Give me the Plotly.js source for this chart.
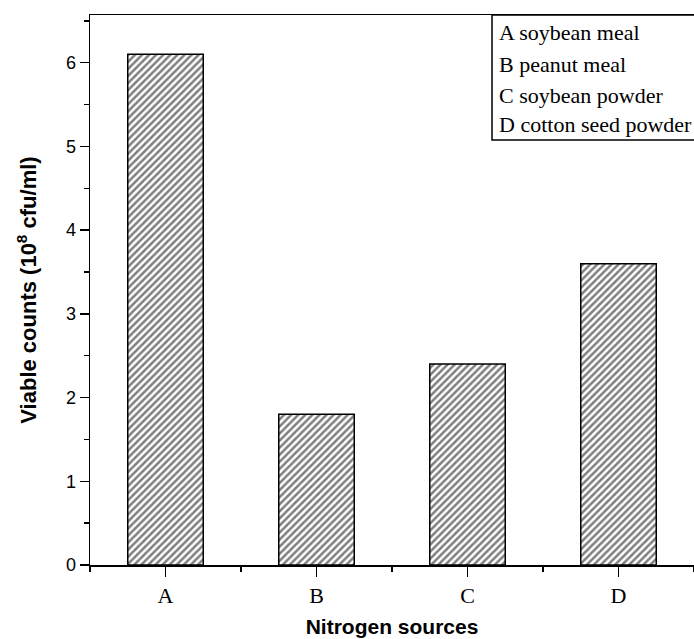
<!DOCTYPE html>
<html>
<head>
<meta charset="utf-8">
<script src="https://cdn.plot.ly/plotly-3.0.1.min.js"></script>
<style>html,body{margin:0;padding:0;background:#fff;}#chart{width:694px;height:639px;}</style>
</head>
<body>
<div id="chart"></div>
<script>
// Data
const categories = ['A', 'B', 'C', 'D'];
const sourceNames = ['soybean meal', 'peanut meal', 'soybean powder', 'cotton seed powder'];
const viableCounts = [6.1, 1.8, 2.4, 3.6];

const xPos = categories.map((c, i) => i + 1);

const trace = {
  type: 'bar',
  x: xPos,
  y: viableCounts,
  width: 0.5,
  marker: {
    color: 'white',
    line: {color: 'black', width: 1.5},
    pattern: {shape: '/', size: 5, solidity: 0.5, fgcolor: 'black', bgcolor: 'white', fillmode: 'overlay'}
  },
  hoverinfo: 'skip'
};

// Legend box (text-only key)
const legendTop = [0.9673, 0.9109, 0.8545, 0.80];
const annotations = categories.map((c, i) => ({
  xref: 'paper', yref: 'paper',
  x: 0.6738, y: legendTop[i],
  xanchor: 'left', yanchor: 'middle',
  text: c + ' ' + sourceNames[i],
  showarrow: false,
  font: {family: 'Liberation Serif, Times New Roman, serif', size: 22, color: 'black'}
}));

const layout = {
  width: 694, height: 639,
  margin: {l: 90, r: 0, t: 15, b: 74},
  paper_bgcolor: 'white', plot_bgcolor: 'white',
  showlegend: false,
  xaxis: {
    range: [0.5, 4.5],
    tickmode: 'array', tickvals: xPos, ticktext: categories,
    ticks: 'outside', ticklen: 10, tickwidth: 1.5, tickcolor: 'black',
    minor: {tickmode: 'array', tickvals: [0.5, 1.5, 2.5, 3.5, 4.5], ticks: 'outside', ticklen: 5, tickwidth: 1.5, tickcolor: 'black'},
    showline: true, linewidth: 1.5, linecolor: 'black', mirror: true,
    showgrid: false, zeroline: false,
    tickfont: {family: 'Liberation Serif, Times New Roman, serif', size: 22, color: 'black'},
    title: {text: '<b>Nitrogen sources</b>', font: {family: 'Liberation Sans, Arial, sans-serif', size: 21, color: 'black'}, standoff: 12}
  },
  yaxis: {
    range: [0, 6.57],
    tickmode: 'linear', tick0: 0, dtick: 1,
    ticks: 'outside', ticklen: 9, tickwidth: 1.5, tickcolor: 'black',
    minor: {dtick: 0.5, ticks: 'outside', ticklen: 5, tickwidth: 1.5, tickcolor: 'black'},
    showline: true, linewidth: 1.5, linecolor: 'black',
    showgrid: false, zeroline: false,
    tickfont: {family: 'Liberation Sans, Arial, sans-serif', size: 18, color: 'black'},
    title: {text: '<b>Viable counts (10<sup>8</sup> cfu/ml)</b>', font: {family: 'Liberation Sans, Arial, sans-serif', size: 22, color: 'black'}, standoff: 23}
  },
  shapes: [{
    type: 'rect', xref: 'paper', yref: 'paper',
    x0: 0.6656, x1: 1.02, y0: 0.7727, y1: 1,
    line: {color: 'black', width: 1.5}, fillcolor: 'rgba(0,0,0,0)'
  }],
  annotations: annotations
};

Plotly.newPlot('chart', [trace], layout, {displayModeBar: false, staticPlot: true});
</script>
</body>
</html>
